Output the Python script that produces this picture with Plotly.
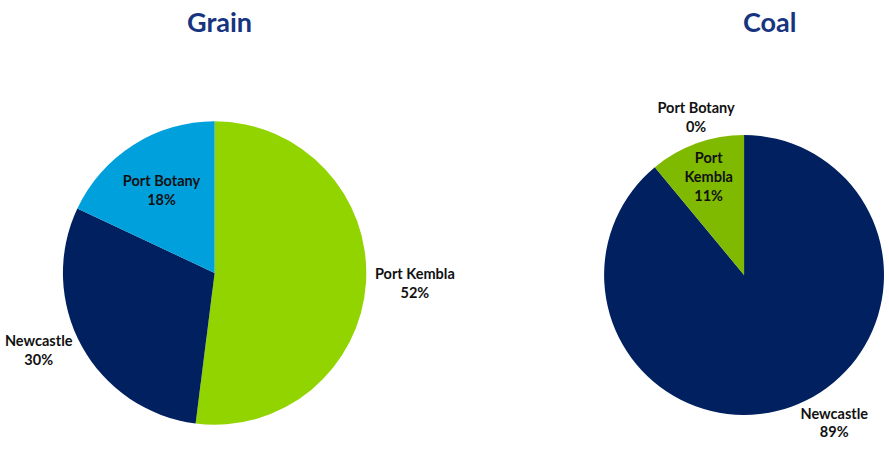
import plotly.graph_objects as go

# Share of each commodity's trade handled by each port (%)
grain_ports = ["Port Kembla", "Newcastle", "Port Botany"]
grain_share = [52, 30, 18]
grain_colors = ["#92D400", "#002060", "#00A0DC"]
grain_text = ["Port Kembla", "Newcastle", "Port Botany"]
grain_textpos = ["outside", "outside", "inside"]

coal_ports = ["Newcastle", "Port Kembla", "Port Botany"]
coal_share = [89, 11, 0]
coal_colors = ["#002060", "#7FBA00", "#00A0DC"]
coal_text = ["Newcastle", "Port<br>Kembla", "Port Botany"]
coal_textpos = ["outside", "inside", "outside"]

label_font = dict(family="Lato, 'Open Sans', sans-serif", size=14.5, color="#111111")
title_font = dict(family="Lato, 'Open Sans', sans-serif", size=27, color="#17357F")

fig = go.Figure()

fig.add_trace(go.Pie(
    labels=grain_ports, values=grain_share, text=grain_text,
    sort=False, direction="clockwise", rotation=0,
    marker=dict(colors=grain_colors, line=dict(width=0)),
    texttemplate="<b>%{text}<br>%{value}%</b>",
    textposition=grain_textpos,
    insidetextorientation="horizontal",
    textfont=label_font, outsidetextfont=label_font, insidetextfont=label_font,
    domain=dict(x=[50 / 889, 360 / 889], y=[1 - 428 / 460, 1 - 118 / 460]),
    showlegend=False, hoverinfo="label+value",
))

fig.add_trace(go.Pie(
    labels=coal_ports, values=coal_share, text=coal_text,
    sort=False, direction="clockwise", rotation=0,
    marker=dict(colors=coal_colors, line=dict(width=0)),
    texttemplate="<b>%{text}<br>%{value}%</b>",
    textposition=coal_textpos,
    insidetextorientation="horizontal",
    textfont=label_font, outsidetextfont=label_font, insidetextfont=label_font,
    domain=dict(x=[603 / 889, 1.0], y=[1 - 420 / 460, 1 - 130 / 460]),
    showlegend=False, hoverinfo="label+value",
))

fig.add_annotation(text="<b>Grain</b>", x=210 / 889, y=1 - 22 / 460, xref="paper", yref="paper",
                   showarrow=False, font=title_font, xanchor="center", yanchor="middle")
fig.add_annotation(text="<b>Coal</b>", x=773 / 889, y=1 - 22 / 460, xref="paper", yref="paper",
                   showarrow=False, font=title_font, xanchor="center", yanchor="middle")

fig.update_layout(
    width=889, height=460,
    margin=dict(l=0, r=0, t=0, b=0),
    paper_bgcolor="white", plot_bgcolor="white",
    uniformtext=dict(minsize=14.5, mode="show"),
)

fig.write_html("out.html")
